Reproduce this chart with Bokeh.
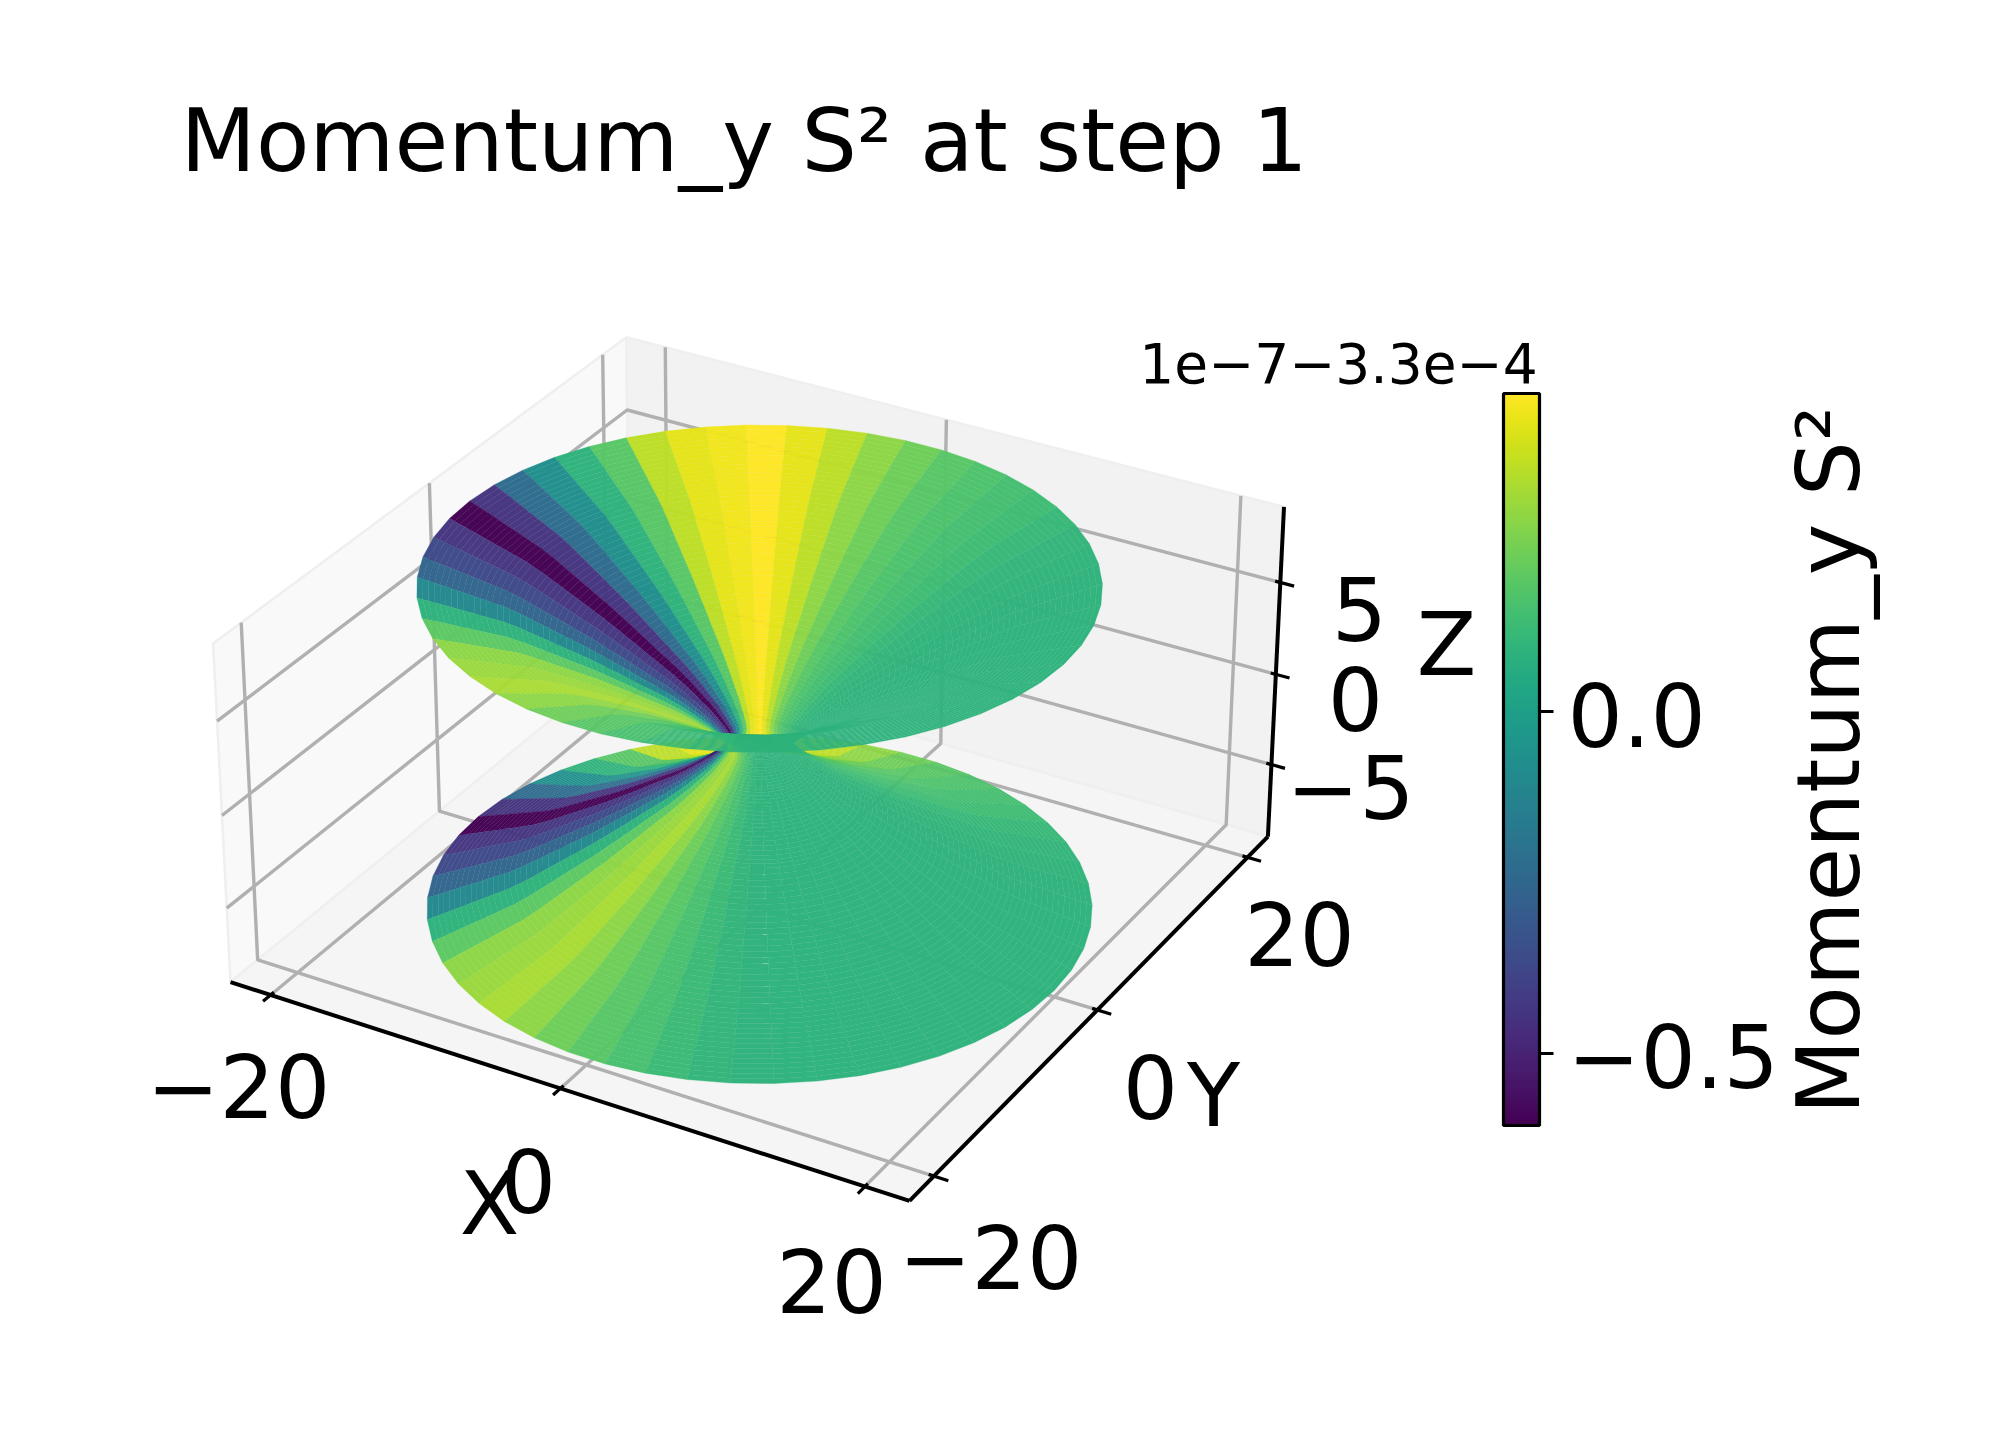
import numpy as np
from bokeh.plotting import figure
from bokeh.models import Range1d, LinearColorMapper, ColorBar, FixedTicker, ColumnDataSource
from bokeh.palettes import Viridis256
from bokeh.core.properties import value
from bokeh.embed import file_html
from bokeh.resources import INLINE

# ---- data ----
title_text = "Momentum_y S\u00b2 at step 1"
cbar_label = "Momentum_y S\u00b2"
offset_text = "1e\u22127\u22123.3e\u22124"
color_min, color_max = -0.605, 0.466
cbar_ticks = [-0.5, 0.0]
x_ticks = [-20, 0, 20]
y_ticks = [-20, 0, 20]
z_ticks = [-5, 0, 5]
xy_half, z_half = 22.85, 9.05
# value of each of the 50 longitudinal strips (in units of the colour bar)
wedge_values = [0.086, 0.086, 0.086, 0.091, 0.091, 0.097, 0.102, 0.113, 0.134, 0.145,
                0.166, 0.188, 0.230, 0.284, 0.359, 0.423, 0.466, 0.445, 0.423, 0.359,
                0.188, 0.091, -0.070, -0.230, -0.444, -0.605, -0.434, -0.369, -0.252, -0.102,
                0.091, 0.198, 0.284, 0.305, 0.327, 0.284, 0.230, 0.188, 0.155, 0.123,
                0.102, 0.091, 0.086, 0.086, 0.086, 0.086, 0.086, 0.086, 0.086, 0.086]
# radial profile of the upper sheet; the lower sheet mirrors it
profile_r = [1.9, 2.0, 2.3, 2.7, 3.1, 3.6, 4.2, 4.8, 5.5, 6.3, 7, 8, 9, 10, 11, 12, 13, 14, 15, 16, 17, 18, 19, 20]
profile_z = [0, 0.25, 0.55, 0.90, 1.22, 1.55, 1.95, 2.32, 2.72, 3.13, 3.48, 4.0, 4.5, 5.0,
             5.45, 5.9, 6.35, 6.8, 7.2, 7.5, 7.8, 8.1, 8.4, 8.69]

# ---- 3D view (elevation 30, azimuth -60) ----
BOX = np.array([1.2705, 1.2705, 0.6353])
W = np.array([0.4330127, -0.75, 0.5])
U = np.array([0.8660254, 0.5, 0.0])
V = np.array([-0.25, 0.4330127, 0.8660254])
SCALE, CX, CY = 6070.0, 759.0, 743.0
HALF = np.array([xy_half, xy_half, z_half])


def project(x, y, z):
    p = np.stack([np.asarray(x, float), np.asarray(y, float), np.asarray(z, float)], axis=-1)
    d = p / HALF * (BOX / 2)
    depth = 10 - d @ W
    return CX + SCALE * (d @ U) / depth, CY - SCALE * (d @ V) / depth, depth


def path3d(pts):
    a = np.array(pts, float)
    return project(a[:, 0], a[:, 1], a[:, 2])[:2]


lx, ly, lz = xy_half, xy_half, z_half

p = figure(width=1984, height=1413, x_range=Range1d(0, 1984), y_range=Range1d(1413, 0),
           output_backend="svg", toolbar_location=None, min_border=0,
           background_fill_color="white", border_fill_color="white", outline_line_color=None)
p.axis.visible = False
p.grid.visible = False

# panes
panes = [
    ([(-lx, -ly, -lz), (-lx, ly, -lz), (-lx, ly, lz), (-lx, -ly, lz)], "#f9f9f9"),
    ([(-lx, ly, -lz), (lx, ly, -lz), (lx, ly, lz), (-lx, ly, lz)], "#f2f2f2"),
    ([(-lx, -ly, -lz), (lx, -ly, -lz), (lx, ly, -lz), (-lx, ly, -lz)], "#f5f5f5"),
]
for pts, col in panes:
    xs, ys = path3d(pts)
    p.patch(xs, ys, fill_color=col, line_color="#efefef", line_width=2.5)

# grid lines
GRID = dict(line_color="#b0b0b0", line_width=3.4)
for t in x_ticks:
    xs, ys = path3d([(t, -ly, -lz), (t, ly, -lz), (t, ly, lz)])
    p.line(xs, ys, **GRID)
for t in y_ticks:
    xs, ys = path3d([(lx, t, -lz), (-lx, t, -lz), (-lx, t, lz)])
    p.line(xs, ys, **GRID)
for t in z_ticks:
    xs, ys = path3d([(-lx, -ly, t), (-lx, ly, t), (lx, ly, t)])
    p.line(xs, ys, **GRID)

# surface
sub = 3
rr, zz = [], []
for i in range(len(profile_r) - 1):
    for j in range(sub):
        f = j / sub
        rr.append(profile_r[i] * (1 - f) + profile_r[i + 1] * f)
        zz.append(profile_z[i] * (1 - f) + profile_z[i + 1] * f)
rr.append(profile_r[-1])
zz.append(profile_z[-1])
rr = np.array(rr)
zz = np.array(zz)
n = len(wedge_values)
phi = np.arange(n + 1) * 2 * np.pi / n
cells = []
for sign in (1, -1):
    for i in range(len(rr) - 1):
        for k in range(n):
            ph = [phi[k], phi[k + 1], phi[k + 1], phi[k]]
            ra = [rr[i], rr[i], rr[i + 1], rr[i + 1]]
            za = [zz[i], zz[i], zz[i + 1], zz[i + 1]]
            sx, sy, dp = project(np.array(ra) * np.cos(ph), np.array(ra) * np.sin(ph), sign * np.array(za))
            cells.append((dp.mean(), sx.tolist(), sy.tolist(), wedge_values[k]))
cells.sort(key=lambda c: -c[0])
src = ColumnDataSource(dict(xs=[c[1] for c in cells], ys=[c[2] for c in cells], v=[c[3] for c in cells]))
mapper = LinearColorMapper(palette=Viridis256, low=color_min, high=color_max)
p.patches("xs", "ys", source=src, fill_color={"field": "v", "transform": mapper},
          fill_alpha=0.98, line_color={"field": "v", "transform": mapper}, line_width=0.5, line_alpha=0.6)

# axis lines and ticks
AX = dict(line_color="black", line_width=4)
for pts in ([(-lx, -ly, -lz), (lx, -ly, -lz)], [(lx, -ly, -lz), (lx, ly, -lz)], [(lx, ly, -lz), (lx, ly, lz)]):
    xs, ys = path3d(pts)
    p.line(xs, ys, **AX)
TICK = dict(line_color="black", line_width=3.2)
for t in x_ticks:
    xs, ys = path3d([(t, -ly * 0.985, -lz), (t, -ly * 1.035, -lz)])
    p.line(xs, ys, **TICK)
for t in y_ticks:
    xs, ys = path3d([(lx * 0.985, t, -lz), (lx * 1.04, t, -lz)])
    p.line(xs, ys, **TICK)
for t in z_ticks:
    xs, ys = path3d([(lx * 0.985, ly, t), (lx * 1.04, ly, t)])
    p.line(xs, ys, **TICK)

# texts
FONT = value("DejaVu Sans")
LIFT = 0.36


def label(x, y, s, size=87, align="center"):
    p.text([x], [y - LIFT * size], text=[s], text_font=FONT, text_font_size=value(f"{size}px"),
           text_color="black", text_align=align, text_baseline="alphabetic")


label(180, 172, title_text, size=87.4, align="left")
label(238, 1117, "\u221220")
label(528, 1212, "0")
label(831, 1312, "20")
label(489, 1235, "X")
label(990, 1288, "\u221220")
label(1150, 1118, "0")
label(1213, 1127, "Y")
label(1299, 965, "20")
label(1350, 818, "\u22125")
label(1355, 730, "0")
label(1359, 640, "5")
label(1446, 676, "Z")
label(1338, 382, offset_text, size=55)
label(1567, 746, "0.0", align="left")
label(1567, 1087, "\u22120.5", align="left")
p.text([1860 - LIFT * 87], [1114], text=[cbar_label], text_font=FONT, text_font_size=value("87px"),
       text_color="black", text_align="left", text_baseline="alphabetic", angle=np.pi / 2)

cb = ColorBar(color_mapper=mapper, location=(1503, 288), width=36, height=732, padding=0, margin=0,
              ticker=FixedTicker(ticks=cbar_ticks), major_label_overrides={-0.5: " ", 0.0: " "},
              major_label_text_font="DejaVu Sans", major_label_text_font_size="20px",
              major_label_text_color="black", label_standoff=18,
              major_tick_in=0, major_tick_out=14, major_tick_line_color="black", major_tick_line_width=3,
              minor_tick_line_color=None, bar_line_color="black", bar_line_width=3.2,
              background_fill_color=None, border_line_color=None, title=None)
p.add_layout(cb, "center")

open("out.html", "w").write(file_html(p, INLINE))
